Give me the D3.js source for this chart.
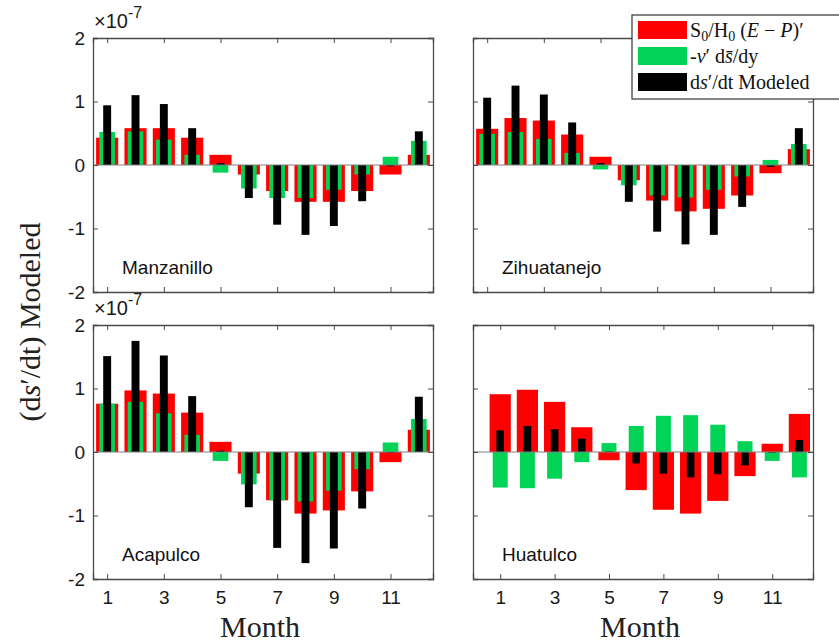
<!DOCTYPE html>
<html>
<head>
<meta charset="utf-8">
<script src="https://cdn.jsdelivr.net/npm/d3@7"></script>
<style>
  body { margin: 0; background: #fff; }
  svg { display: block; }
</style>
</head>
<body>
<main></main>
<script>
// data, in units of 1e-7
const months = [1, 2, 3, 4, 5, 6, 7, 8, 9, 10, 11, 12]
const xTicks = [1, 3, 5, 7, 9, 11]
const yTicks = [-2, -1, 0, 1, 2]
const stations = ["Manzanillo", "Zihuatanejo", "Acapulco", "Huatulco"]

// S0/H0 (E-P)'
const epManzanillo  = [0.43, 0.58, 0.58, 0.43, 0.16, -0.15, -0.41, -0.58, -0.58, -0.41, -0.15, 0.16]
const epZihuatanejo = [0.57, 0.74, 0.70, 0.48, 0.13, -0.24, -0.56, -0.73, -0.69, -0.48, -0.13, 0.25]
const epAcapulco    = [0.76, 0.97, 0.92, 0.62, 0.16, -0.34, -0.76, -0.97, -0.92, -0.62, -0.16, 0.35]
const epHuatulco    = [0.91, 0.98, 0.79, 0.39, -0.13, -0.60, -0.91, -0.97, -0.77, -0.38, 0.13, 0.60]

// -v' ds/dy
const advManzanillo  = [0.52, 0.53, 0.40, 0.16, -0.12, -0.37, -0.52, -0.52, -0.39, -0.15, 0.13, 0.38]
const advZihuatanejo = [0.49, 0.52, 0.41, 0.19, -0.07, -0.32, -0.48, -0.51, -0.39, -0.18, 0.08, 0.33]
const advAcapulco    = [0.76, 0.79, 0.61, 0.27, -0.14, -0.51, -0.76, -0.78, -0.61, -0.27, 0.15, 0.52]
const advHuatulco    = [-0.56, -0.57, -0.42, -0.16, 0.14, 0.41, 0.57, 0.58, 0.43, 0.17, -0.14, -0.40]

// ds'/dt modeled
const modManzanillo  = [0.94, 1.10, 0.96, 0.58, 0.03, -0.52, -0.94, -1.10, -0.96, -0.57, -0.02, 0.53]
const modZihuatanejo = [1.06, 1.25, 1.11, 0.67, 0.03, -0.58, -1.05, -1.25, -1.10, -0.66, -0.03, 0.58]
const modAcapulco    = [1.51, 1.75, 1.52, 0.88, 0.02, -0.87, -1.51, -1.75, -1.52, -0.89, -0.01, 0.87]
const modHuatulco    = [0.34, 0.41, 0.36, 0.21, 0.01, -0.18, -0.34, -0.40, -0.35, -0.21, -0.01, 0.19]

const epData  = [epManzanillo, epZihuatanejo, epAcapulco, epHuatulco]
const advData = [advManzanillo, advZihuatanejo, advAcapulco, advHuatulco]
const modData = [modManzanillo, modZihuatanejo, modAcapulco, modHuatulco]
const xDomains = [[0.5, 12.5], [0.5, 12.5], [0.5, 12.5], [0, 12.5]]

const RED = "#ff0000", GREEN = "#00d356", BLACK = "#000000"
const AXIS = "#4a4a4a"

const svg = d3.select("main").append("svg")
    .attr("width", 839)
    .attr("height", 642)

const panelW = 340, panelH = 254
const panelX = [93, 473], panelY = [38, 325]

const series = [
    {data: epData, color: RED, w: 0.78},
    {data: advData, color: GREEN, w: 0.55},
    {data: modData, color: BLACK, w: 0.28}
]

stations.forEach((name, i) => {
    const col = i % 2, row = Math.floor(i / 2)
    const g = svg.append("g")
        .attr("transform", `translate(${panelX[col]},${panelY[row]})`)

    const x = d3.scaleLinear().domain(xDomains[i]).range([0, panelW])
    const y = d3.scaleLinear().domain([-2, 2]).range([panelH, 0])

    series.forEach(s => {
        const half = (x(1 + s.w / 2) - x(1 - s.w / 2)) / 2
        g.selectAll(null)
            .data(months)
            .join("rect")
            .attr("x", m => x(m) - half)
            .attr("width", half * 2)
            .attr("y", (m, k) => y(Math.max(0, s.data[i][k])))
            .attr("height", (m, k) => Math.abs(y(s.data[i][k]) - y(0)))
            .attr("fill", s.color)
    })

    // baseline
    g.append("line")
        .attr("x1", 0).attr("x2", panelW)
        .attr("y1", y(0)).attr("y2", y(0))
        .attr("stroke", "#808080")
        .attr("stroke-width", 1.2)

    // axes box with inward ticks
    const left = g.append("g").call(d3.axisLeft(y).tickValues(yTicks).tickSize(-5).tickPadding(8).tickFormat(d => String(d)))
    const right = g.append("g").attr("transform", `translate(${panelW},0)`)
        .call(d3.axisRight(y).tickValues(yTicks).tickSize(-5).tickFormat(""))
    const bottom = g.append("g").attr("transform", `translate(0,${panelH})`)
        .call(d3.axisBottom(x).tickValues(xTicks).tickSize(-5).tickPadding(12).tickFormat(d => String(d)))
    const top = g.append("g")
        .call(d3.axisTop(x).tickValues(xTicks).tickSize(-5).tickFormat(""))

    ;[left, right, bottom, top].forEach(a => {
        a.select(".domain").attr("stroke", AXIS).attr("stroke-width", 1.3)
        a.selectAll(".tick line").attr("stroke", AXIS)
        a.selectAll(".tick text")
            .attr("fill", "#1a1a1a")
            .style("font-family", "Liberation Sans, Arial, sans-serif")
            .style("font-size", "19px")
    })
    if (col === 1) left.selectAll(".tick text").remove()
    if (row === 0) bottom.selectAll(".tick text").remove()

    // exponent label
    if (col === 0) {
        const ex = g.append("text")
            .attr("x", 1).attr("y", -10)
            .attr("fill", "#1a1a1a")
            .style("font-family", "Liberation Sans, Arial, sans-serif")
            .style("font-size", "20px")
        ex.append("tspan").text("\u00d710")
        ex.append("tspan").attr("dy", -10).style("font-size", "16px").text("-7")
    }

    // station name
    g.append("text")
        .attr("x", 29)
        .attr("y", y(-1.6) + 7)
        .attr("fill", "#111")
        .style("font-family", "Liberation Sans, Arial, sans-serif")
        .style("font-size", "19px")
        .text(name)

    // x label
    if (row === 1) {
        g.append("text")
            .attr("x", panelW / 2 - 3)
            .attr("y", 312)
            .attr("text-anchor", "middle")
            .attr("fill", "#222")
            .style("font-family", "Liberation Serif, Times New Roman, serif")
            .style("font-size", "30px")
            .text("Month")
    }
})

// y label
svg.append("text")
    .attr("transform", "translate(40,322) rotate(-90)")
    .attr("text-anchor", "middle")
    .attr("fill", "#222")
    .style("font-family", "Liberation Serif, Times New Roman, serif")
    .style("font-size", "30px")
    .html("(d<tspan font-style='italic'>s</tspan>\u2032/dt) Modeled")

// legend
const legendItems = [
    {color: RED, parts: [["S", ""], ["0", "sub"], ["/H", ""], ["0", "sub"], [" (", ""], ["E", "i"], [" \u2212 ", ""], ["P", "i"], [")\u2032", ""]]},
    {color: GREEN, parts: [["-", ""], ["v", "i"], ["\u2032 d", ""], ["s\u0304", "i"], ["/dy", ""]]},
    {color: BLACK, parts: [["d", ""], ["s", "i"], ["\u2032/dt Modeled", ""]]}
]
const lg = svg.append("g").attr("transform", "translate(632,15)")
lg.append("rect")
    .attr("width", 215).attr("height", 84)
    .attr("fill", "#fff")
    .attr("stroke", "#333")
    .attr("stroke-width", 1.2)
legendItems.forEach((it, k) => {
    lg.append("rect")
        .attr("x", 6).attr("y", 6 + k * 26)
        .attr("width", 49).attr("height", 18)
        .attr("fill", it.color)
    const t = lg.append("text")
        .attr("x", 58).attr("y", 22 + k * 26)
        .attr("fill", "#111")
        .style("font-family", "Liberation Serif, Times New Roman, serif")
        .style("font-size", "20px")
    let shifted = false
    it.parts.forEach(([txt, kind]) => {
        const sp = t.append("tspan").text(txt)
        if (kind === "i") sp.style("font-style", "italic")
        if (kind === "sub") { sp.attr("dy", 4).style("font-size", "14px"); shifted = true }
        else if (shifted) { sp.attr("dy", -4); shifted = false }
    })
})
</script>
</body>
</html>
